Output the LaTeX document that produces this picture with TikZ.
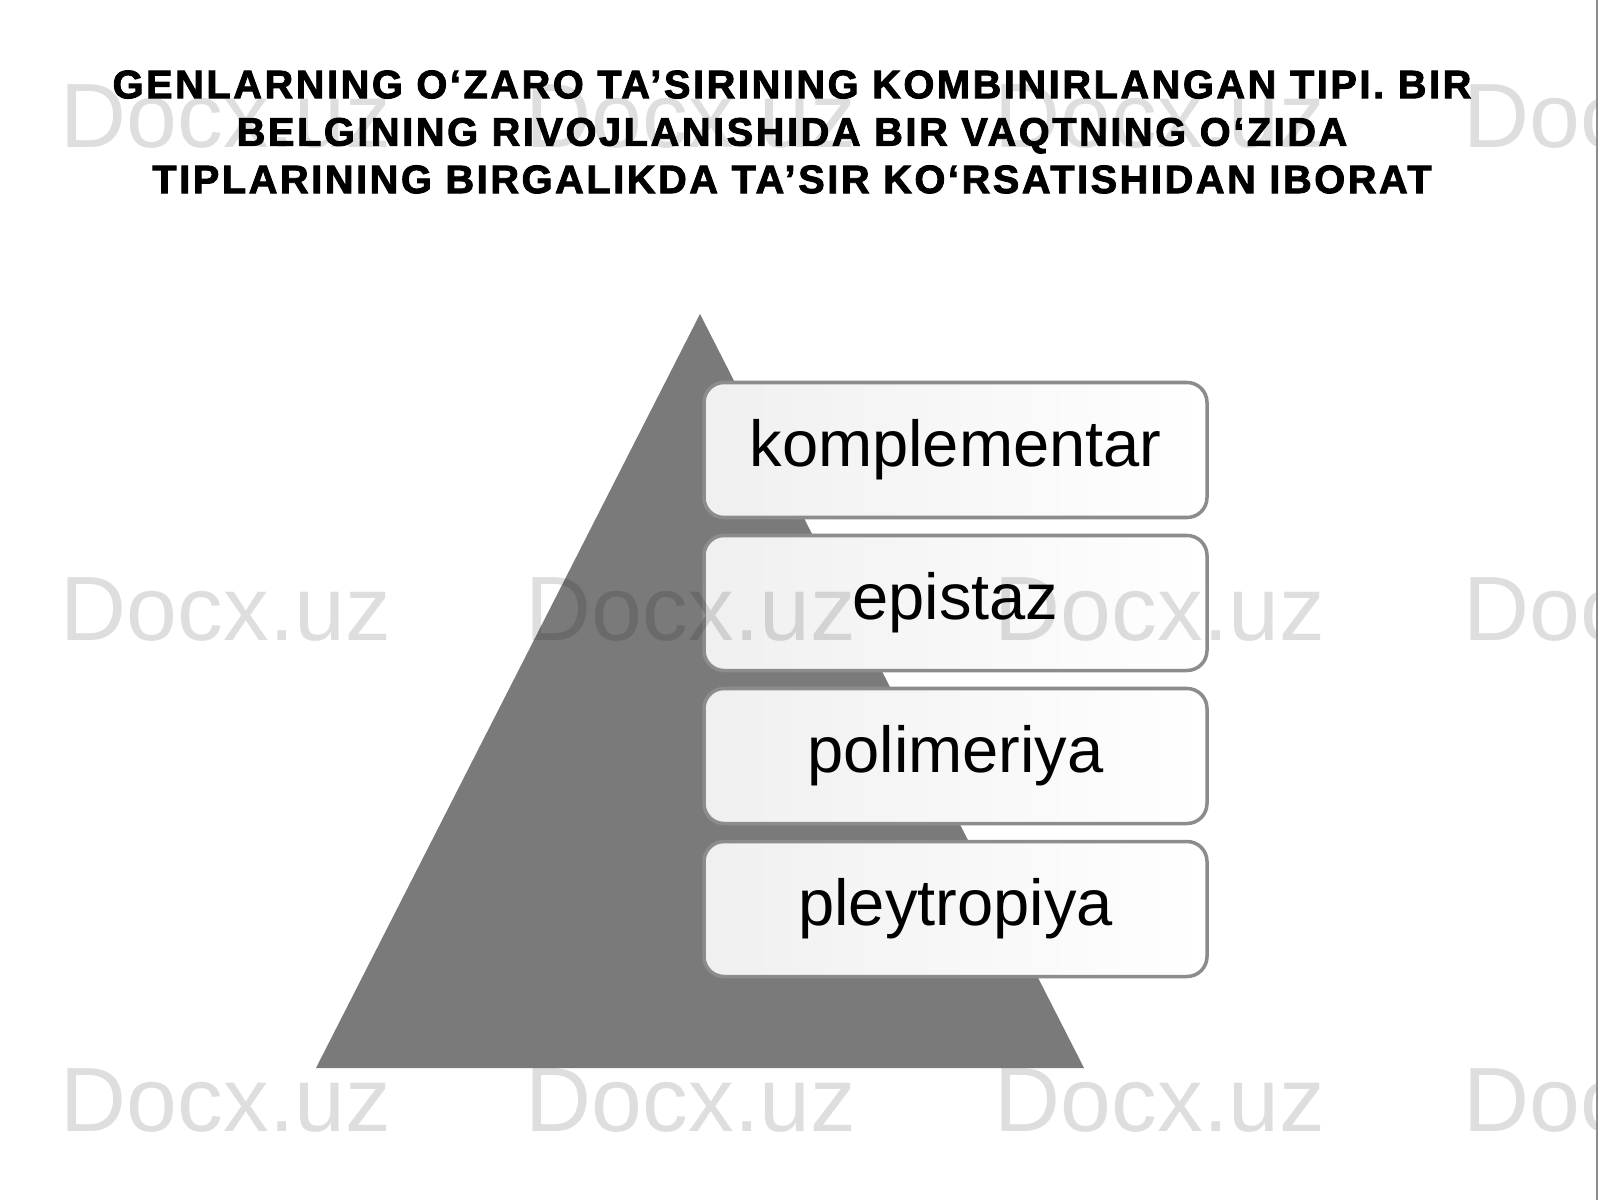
\documentclass[tikz,border=0pt]{standalone}
\usepackage{fontspec}
\setmainfont{Liberation Sans}
\newfontfamily\titlefont[LetterSpace=6.5,BoldFeatures={FakeBold=2.2}]{Liberation Sans}
\usepackage{tikz}
\usetikzlibrary{positioning}

\begin{document}
\begin{tikzpicture}[x=1cm,y=1cm]
% Slide frame: 1600x1200 px -> 16cm x 12cm
\useasboundingbox (0,0) rectangle (16,12);
\fill[white] (0,0) rectangle (16,12);
\def\boxx{9.555}
\def\boxw{5.03}
\def\boxh{1.35}
\tikzset{
  levelbox/.style={draw=black!45, line width=1pt, rounded corners=0.2cm,
    left color=black!6, right color=white, minimum width=\boxw cm,
    minimum height=\boxh cm, inner sep=0pt, font=\fontsize{18.5}{22}\selectfont},
  watermark/.style={font=\fontsize{26}{30}\selectfont, text=black, opacity=0.13, inner sep=0pt}
}

% Title (three lines)
\node[font=\titlefont\bfseries\fontsize{11.3}{13.5}\selectfont, align=center] (title) at (7.92,10.68)
  {GENLARNING O‘ZARO TA’SIRINING KOMBINIRLANGAN TIPI. BIR\\
   BELGINING RIVOJLANISHIDA BIR VAQTNING O‘ZIDA\\
   TIPLARINING BIRGALIKDA TA’SIR KO‘RSATISHIDAN IBORAT};

% Pyramid
\coordinate (apex) at (7.00,8.86);
\coordinate (baseL) at (3.16,1.32);
\coordinate (baseR) at (10.84,1.32);
\fill[black!52] (apex) -- (baseL) -- (baseR) -- cycle;

% Levels
\node[levelbox] (kompl) at (\boxx,7.50) {komplementar};
\node[levelbox] (epist) at (\boxx,5.97) {epistaz};
\node[levelbox] (polim) at (\boxx,4.44) {polimeriya};
\node[levelbox] (pleyt) at (\boxx,2.91) {pleytropiya};

% Watermarks
\begin{scope}
\clip (0,0) rectangle (15.97,12);
\node[watermark] (wm11) at (2.26,10.83) {Docx.uz};
\node[watermark] (wm12) at (6.91,10.83) {Docx.uz};
\node[watermark] (wm13) at (11.60,10.83) {Docx.uz};
\node[watermark] (wm14) at (16.29,10.83) {Docx.uz};
\node[watermark] (wm21) at (2.26,5.90) {Docx.uz};
\node[watermark] (wm22) at (6.91,5.90) {Docx.uz};
\node[watermark] (wm23) at (11.60,5.90) {Docx.uz};
\node[watermark] (wm24) at (16.29,5.90) {Docx.uz};
\node[watermark] (wm31) at (2.26,1.00) {Docx.uz};
\node[watermark] (wm32) at (6.91,1.00) {Docx.uz};
\node[watermark] (wm33) at (11.60,1.00) {Docx.uz};
\node[watermark] (wm34) at (16.29,1.00) {Docx.uz};
\end{scope}

% Slide edge
\draw[black!45, line width=0.5pt] (15.97,0) -- (15.97,12);
\end{tikzpicture}
\end{document}
